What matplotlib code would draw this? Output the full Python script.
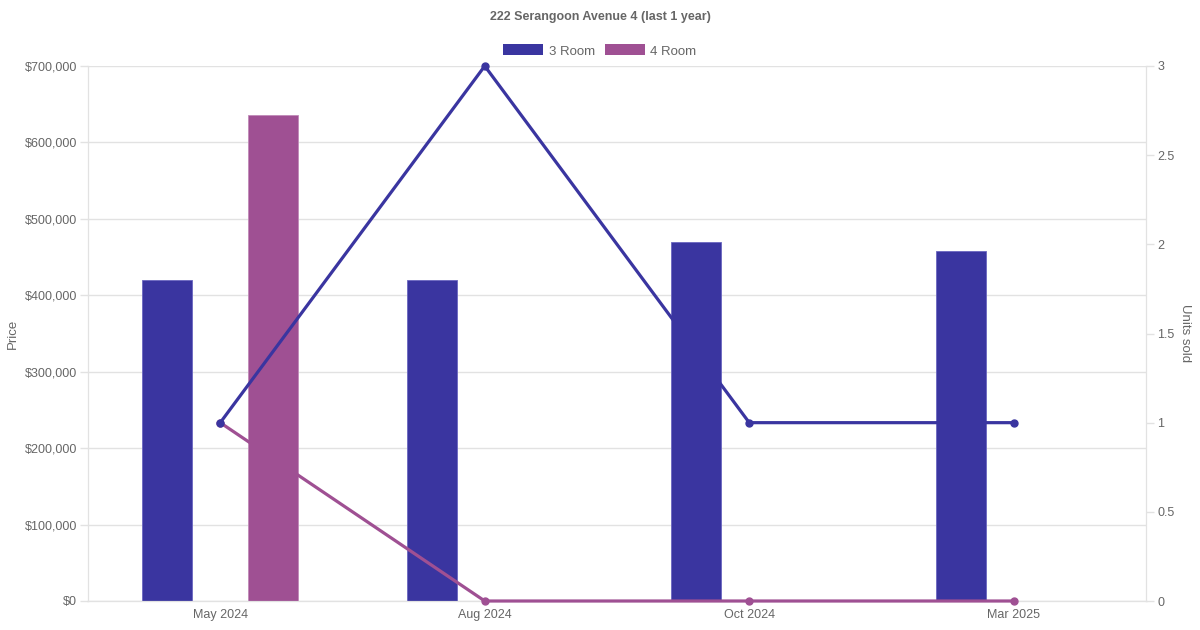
import numpy as np
import matplotlib.pyplot as plt
from matplotlib.patches import Patch
from matplotlib.ticker import FuncFormatter

plt.rcParams['font.family'] = ['Liberation Sans', 'DejaVu Sans']

# dados
months = ['May 2024', 'Aug 2024', 'Oct 2024', 'Mar 2025']
price_3room = [420000, 420000, 470000, 458000]
price_4room = [636000, np.nan, np.nan, np.nan]
units_3room = [1, 3, 1, 1]
units_4room = [1, 0, 0, 0]

c3 = '#3a35a0'
c4 = '#9f5093'
txt = '#666666'
grid = '#e2e2e2'

x = np.arange(len(months))

fig = plt.figure(figsize=(12, 6.3), dpi=100)
ax = fig.add_axes([88/1200, 29/630, (1146-88)/1200, (601-66)/630])
ax2 = ax.twinx()

ax.bar(x - 0.2, price_3room, width=0.19, color=c3, edgecolor='#6a66c0', linewidth=0.6, zorder=2)
ax.bar(x + 0.2, price_4room, width=0.19, color=c4, edgecolor='#c08ab8', linewidth=0.6, zorder=2)

# linha do 3 Room fica por cima
ax2.plot(x, units_3room, '-o', color=c3, linewidth=2.3, markersize=5, zorder=4, clip_on=False)
ax2.plot(x, units_4room, '-o', color=c4, linewidth=2.3, markersize=5, zorder=3, clip_on=False)

ax.set_xlim(-0.5, 3.5)
ax.set_ylim(0, 700000)
ax2.set_ylim(0, 3)
ax.set_yticks(np.arange(0, 700001, 100000))
ax2.set_yticks(np.arange(0, 3.01, 0.5))
ax2.set_yticklabels(['0', '0.5', '1', '1.5', '2', '2.5', '3'])
ax.yaxis.set_major_formatter(FuncFormatter(lambda v, p: f'${v:,.0f}'))
ax.set_xticks(x)
ax.set_xticklabels(months)

ax.grid(axis='y', color=grid, linewidth=1)
ax.set_axisbelow(True)
for a in (ax, ax2):
    for s in a.spines.values():
        s.set_color(grid)
    a.spines['top'].set_visible(False)
    a.tick_params(colors=txt, labelsize=9, length=6, width=1)
    a.tick_params(axis='y', color=grid, labelcolor=txt, pad=2)
ax.spines['bottom'].set_color('#cccccc')
ax.tick_params(axis='x', length=0, pad=6)

ax.set_ylabel('Price', color=txt, fontsize=9.5, labelpad=4)
ax2.set_ylabel('Units sold', color=txt, fontsize=9.5, rotation=270, labelpad=12)

fig.text(0.5, 1 - 17/630, '222 Serangoon Avenue 4 (last 1 year)', ha='center', va='center',
         fontsize=9, fontweight='bold', color=txt)
handles = [Patch(facecolor=c3, edgecolor='none', label='3 Room'),
           Patch(facecolor=c4, edgecolor='none', label='4 Room')]
leg = fig.legend(handles=handles, loc='center', bbox_to_anchor=(0.5, 1 - 51/630), ncol=2,
                 frameon=False, fontsize=9.5, handlelength=3.0, handleheight=0.9,
                 handletextpad=0.45, columnspacing=0.75)
for t in leg.get_texts():
    t.set_color(txt)

fig.savefig('out.png', dpi=100)
